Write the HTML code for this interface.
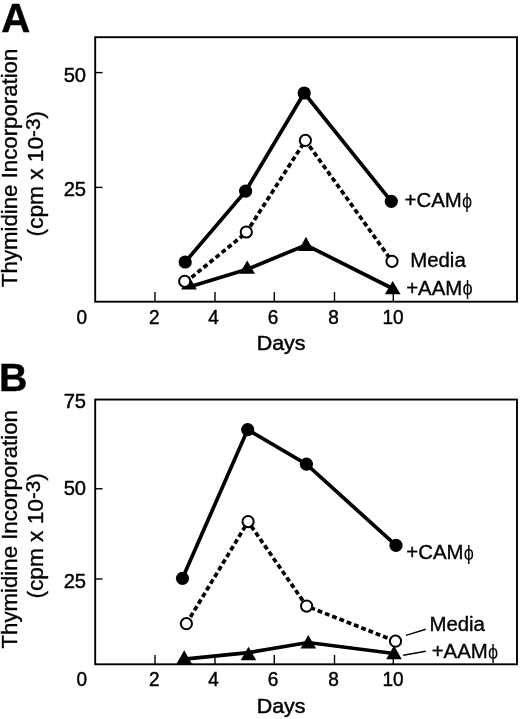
<!DOCTYPE html>
<html><head><meta charset="utf-8"><title>Figure</title>
<style>html,body{margin:0;padding:0;background:#fff}svg{display:block}</style></head>
<body>
<svg width="520" height="719" viewBox="0 0 520 719" font-family='"Liberation Sans", sans-serif' fill="#000">
<rect width="520" height="719" fill="#fff"/>
<text transform="translate(1.2,31.5) scale(1.0,1)" font-size="40.2" font-weight="bold" text-anchor="start" stroke="#000" stroke-width="0.4" >A</text>
<text transform="translate(17.0,167.85) rotate(-90) scale(1.01,1)" font-size="22" text-anchor="middle" stroke="#000" stroke-width="0.35">Thymidine Incorporation</text>
<text transform="translate(43.2,173.75) rotate(-90) scale(1.03,1)" font-size="22" text-anchor="middle" stroke="#000" stroke-width="0.35">(cpm x 10<tspan font-size="20" dy="-3.2">-3</tspan><tspan dy="3.2">)</tspan></text>
<polyline points="189,287.0 247.2,269.3 306,245 392.5,288.5" fill="none" stroke="#000" stroke-width="3.7" stroke-linejoin="miter"/>
<polygon points="189.0,276.0 181.2,289.4 196.8,289.4" fill="#000"/>
<polygon points="247.2,260.4 239.39999999999998,273.8 255.0,273.8" fill="#000"/>
<polygon points="306,236.8 298.2,251.0 313.8,251.0" fill="#000"/>
<polygon points="392.7,280.9 384.9,294.3 400.5,294.3" fill="#000"/>
<polyline points="185.5,282.3 246.3,232.6 305.4,140.4 392,261.3" fill="none" stroke="#000" stroke-width="3.7" stroke-linejoin="miter" stroke-dasharray="4.8 3.0"/>
<circle cx="184.7" cy="281.3" r="5.6" fill="#fff" stroke="#000" stroke-width="2"/>
<circle cx="246.3" cy="232.0" r="5.6" fill="#fff" stroke="#000" stroke-width="2"/>
<circle cx="305.4" cy="140.4" r="5.6" fill="#fff" stroke="#000" stroke-width="2"/>
<circle cx="392" cy="261.3" r="5.6" fill="#fff" stroke="#000" stroke-width="2"/>
<polyline points="185.2,262.0 245.6,191.1 304.2,93.0 391.3,201.3" fill="none" stroke="#000" stroke-width="3.7" stroke-linejoin="miter"/>
<circle cx="185.2" cy="262.0" r="6.6" fill="#000"/>
<circle cx="245.6" cy="191.1" r="6.6" fill="#000"/>
<circle cx="304.2" cy="93.0" r="6.6" fill="#000"/>
<circle cx="391.3" cy="201.3" r="6.6" fill="#000"/>
<rect x="95.2" y="37.2" width="421.8" height="264.5" fill="none" stroke="#000" stroke-width="1.9"/>
<line x1="95.2" y1="72.6" x2="102.5" y2="72.6" stroke="#000" stroke-width="1.4"/>
<line x1="95.2" y1="187.4" x2="102.5" y2="187.4" stroke="#000" stroke-width="1.4"/>
<line x1="155" y1="292" x2="155" y2="301.7" stroke="#000" stroke-width="1.4"/>
<line x1="215" y1="292" x2="215" y2="301.7" stroke="#000" stroke-width="1.4"/>
<line x1="274.3" y1="292" x2="274.3" y2="301.7" stroke="#000" stroke-width="1.4"/>
<line x1="334.5" y1="292" x2="334.5" y2="301.7" stroke="#000" stroke-width="1.4"/>
<line x1="393.3" y1="292" x2="393.3" y2="301.7" stroke="#000" stroke-width="1.4"/>
<text transform="translate(86.1,81.7) scale(1.02,1)" font-size="19.8" font-weight="normal" text-anchor="end" stroke="#000" stroke-width="0.45" >50</text>
<text transform="translate(86.1,196.3) scale(1.02,1)" font-size="19.8" font-weight="normal" text-anchor="end" stroke="#000" stroke-width="0.45" >25</text>
<text transform="translate(81.7,323.5) scale(0.96,1)" font-size="19.8" font-weight="normal" text-anchor="middle" stroke="#000" stroke-width="0.45" >0</text>
<text transform="translate(154.2,323.5) scale(0.96,1)" font-size="19.8" font-weight="normal" text-anchor="middle" stroke="#000" stroke-width="0.45" >2</text>
<text transform="translate(213.6,323.5) scale(0.96,1)" font-size="19.8" font-weight="normal" text-anchor="middle" stroke="#000" stroke-width="0.45" >4</text>
<text transform="translate(273,323.5) scale(0.96,1)" font-size="19.8" font-weight="normal" text-anchor="middle" stroke="#000" stroke-width="0.45" >6</text>
<text transform="translate(333.5,323.5) scale(0.96,1)" font-size="19.8" font-weight="normal" text-anchor="middle" stroke="#000" stroke-width="0.45" >8</text>
<text transform="translate(393,323.5) scale(0.96,1)" font-size="19.8" font-weight="normal" text-anchor="middle" stroke="#000" stroke-width="0.45" >10</text>
<text transform="translate(281.1,349.59999999999997) scale(1.1,1)" font-size="19.5" font-weight="normal" text-anchor="middle" stroke="#000" stroke-width="0.45" >Days</text>
<text transform="translate(404.6,207.0) scale(1.02,1)" font-size="20.0" font-weight="normal" text-anchor="start" stroke="#000" stroke-width="0.35" >+CAM</text>
<text transform="translate(461.94,207.8) scale(0.9,1)" font-size="20.2" font-weight="normal" text-anchor="start" stroke="#000" stroke-width="0.0" >ϕ</text>
<text transform="translate(410.2,266.5) scale(1.02,1)" font-size="20.0" font-weight="normal" text-anchor="start" stroke="#000" stroke-width="0.35" >Media</text>
<text transform="translate(406.2,294.5) scale(1.02,1)" font-size="20.0" font-weight="normal" text-anchor="start" stroke="#000" stroke-width="0.35" >+AAM</text>
<text transform="translate(462.42,295.3) scale(0.9,1)" font-size="20.2" font-weight="normal" text-anchor="start" stroke="#000" stroke-width="0.0" >ϕ</text>
<text transform="translate(-1.1,391.2) scale(1.0,1)" font-size="39.4" font-weight="bold" text-anchor="start" stroke="#000" stroke-width="0.4" >B</text>
<text transform="translate(17.0,529.3) rotate(-90) scale(1.01,1)" font-size="22" text-anchor="middle" stroke="#000" stroke-width="0.35">Thymidine Incorporation</text>
<text transform="translate(43.2,535.9) rotate(-90) scale(1.03,1)" font-size="22" text-anchor="middle" stroke="#000" stroke-width="0.35">(cpm x 10<tspan font-size="20" dy="-3.2">-3</tspan><tspan dy="3.2">)</tspan></text>
<polyline points="184.2,659.2 248.5,652.6 308.1,642.5 394,653.5" fill="none" stroke="#000" stroke-width="3.7" stroke-linejoin="miter"/>
<polygon points="184.2,650.3 176.39999999999998,663.9 192.0,663.9" fill="#000"/>
<polygon points="248.5,646.8 240.7,660.3 256.3,660.3" fill="#000"/>
<polygon points="308.3,635.0 300.5,648.6 316.1,648.6" fill="#000"/>
<polygon points="394,645.6 386.2,659.3 401.8,659.3" fill="#000"/>
<polyline points="186.4,623.7 248.1,521.6 306.6,606.1 395.5,641.2" fill="none" stroke="#000" stroke-width="3.7" stroke-linejoin="miter" stroke-dasharray="4.8 3.0"/>
<circle cx="186.4" cy="623.7" r="5.6" fill="#fff" stroke="#000" stroke-width="2"/>
<circle cx="248.1" cy="521.6" r="5.6" fill="#fff" stroke="#000" stroke-width="2"/>
<circle cx="306.6" cy="606.1" r="5.6" fill="#fff" stroke="#000" stroke-width="2"/>
<circle cx="395.5" cy="641.2" r="5.6" fill="#fff" stroke="#000" stroke-width="2"/>
<polyline points="182.5,578.3 247.7,429.6 306.4,464.2 396,545.4" fill="none" stroke="#000" stroke-width="3.7" stroke-linejoin="miter"/>
<circle cx="182.5" cy="578.3" r="6.6" fill="#000"/>
<circle cx="247.7" cy="429.6" r="6.6" fill="#000"/>
<circle cx="306.4" cy="464.2" r="6.6" fill="#000"/>
<circle cx="396" cy="545.4" r="6.6" fill="#000"/>
<rect x="95.2" y="399.55" width="421.8" height="264.74999999999994" fill="none" stroke="#000" stroke-width="1.9"/>
<line x1="95.2" y1="488.75" x2="102.5" y2="488.75" stroke="#000" stroke-width="1.4"/>
<line x1="95.2" y1="579.0" x2="102.5" y2="579.0" stroke="#000" stroke-width="1.4"/>
<line x1="155" y1="655" x2="155" y2="664.3" stroke="#000" stroke-width="1.4"/>
<line x1="215" y1="655" x2="215" y2="664.3" stroke="#000" stroke-width="1.4"/>
<line x1="274.3" y1="655" x2="274.3" y2="664.3" stroke="#000" stroke-width="1.4"/>
<line x1="334.5" y1="655" x2="334.5" y2="664.3" stroke="#000" stroke-width="1.4"/>
<line x1="393.3" y1="655" x2="393.3" y2="664.3" stroke="#000" stroke-width="1.4"/>
<text transform="translate(86.1,407.9) scale(1.02,1)" font-size="19.8" font-weight="normal" text-anchor="end" stroke="#000" stroke-width="0.45" >75</text>
<text transform="translate(86.1,495.3) scale(1.02,1)" font-size="19.8" font-weight="normal" text-anchor="end" stroke="#000" stroke-width="0.45" >50</text>
<text transform="translate(86.1,588.3) scale(1.02,1)" font-size="19.8" font-weight="normal" text-anchor="end" stroke="#000" stroke-width="0.45" >25</text>
<text transform="translate(81.7,685.6999999999999) scale(0.96,1)" font-size="19.8" font-weight="normal" text-anchor="middle" stroke="#000" stroke-width="0.45" >0</text>
<text transform="translate(154.2,685.6999999999999) scale(0.96,1)" font-size="19.8" font-weight="normal" text-anchor="middle" stroke="#000" stroke-width="0.45" >2</text>
<text transform="translate(213.6,685.6999999999999) scale(0.96,1)" font-size="19.8" font-weight="normal" text-anchor="middle" stroke="#000" stroke-width="0.45" >4</text>
<text transform="translate(273,685.6999999999999) scale(0.96,1)" font-size="19.8" font-weight="normal" text-anchor="middle" stroke="#000" stroke-width="0.45" >6</text>
<text transform="translate(333.5,685.6999999999999) scale(0.96,1)" font-size="19.8" font-weight="normal" text-anchor="middle" stroke="#000" stroke-width="0.45" >8</text>
<text transform="translate(393,685.6999999999999) scale(0.96,1)" font-size="19.8" font-weight="normal" text-anchor="middle" stroke="#000" stroke-width="0.45" >10</text>
<text transform="translate(281.1,713.4) scale(1.1,1)" font-size="19.5" font-weight="normal" text-anchor="middle" stroke="#000" stroke-width="0.45" >Days</text>
<text transform="translate(406.3,558.9) scale(1.02,1)" font-size="20.0" font-weight="normal" text-anchor="start" stroke="#000" stroke-width="0.35" >+CAM</text>
<text transform="translate(463.64,559.6999999999999) scale(0.9,1)" font-size="20.2" font-weight="normal" text-anchor="start" stroke="#000" stroke-width="0.0" >ϕ</text>
<text transform="translate(429.4,630.5) scale(1.02,1)" font-size="20.0" font-weight="normal" text-anchor="start" stroke="#000" stroke-width="0.35" >Media</text>
<text transform="translate(431.7,658.0) scale(1.02,1)" font-size="20.0" font-weight="normal" text-anchor="start" stroke="#000" stroke-width="0.35" >+AAM</text>
<text transform="translate(487.92,658.8) scale(0.9,1)" font-size="20.2" font-weight="normal" text-anchor="start" stroke="#000" stroke-width="0.0" >ϕ</text>
<line x1="406" y1="635.4" x2="425.8" y2="629.2" stroke="#000" stroke-width="1.5"/>
<line x1="403.2" y1="655.2" x2="425.8" y2="651.2" stroke="#000" stroke-width="1.5"/>
</svg>
</body></html>
